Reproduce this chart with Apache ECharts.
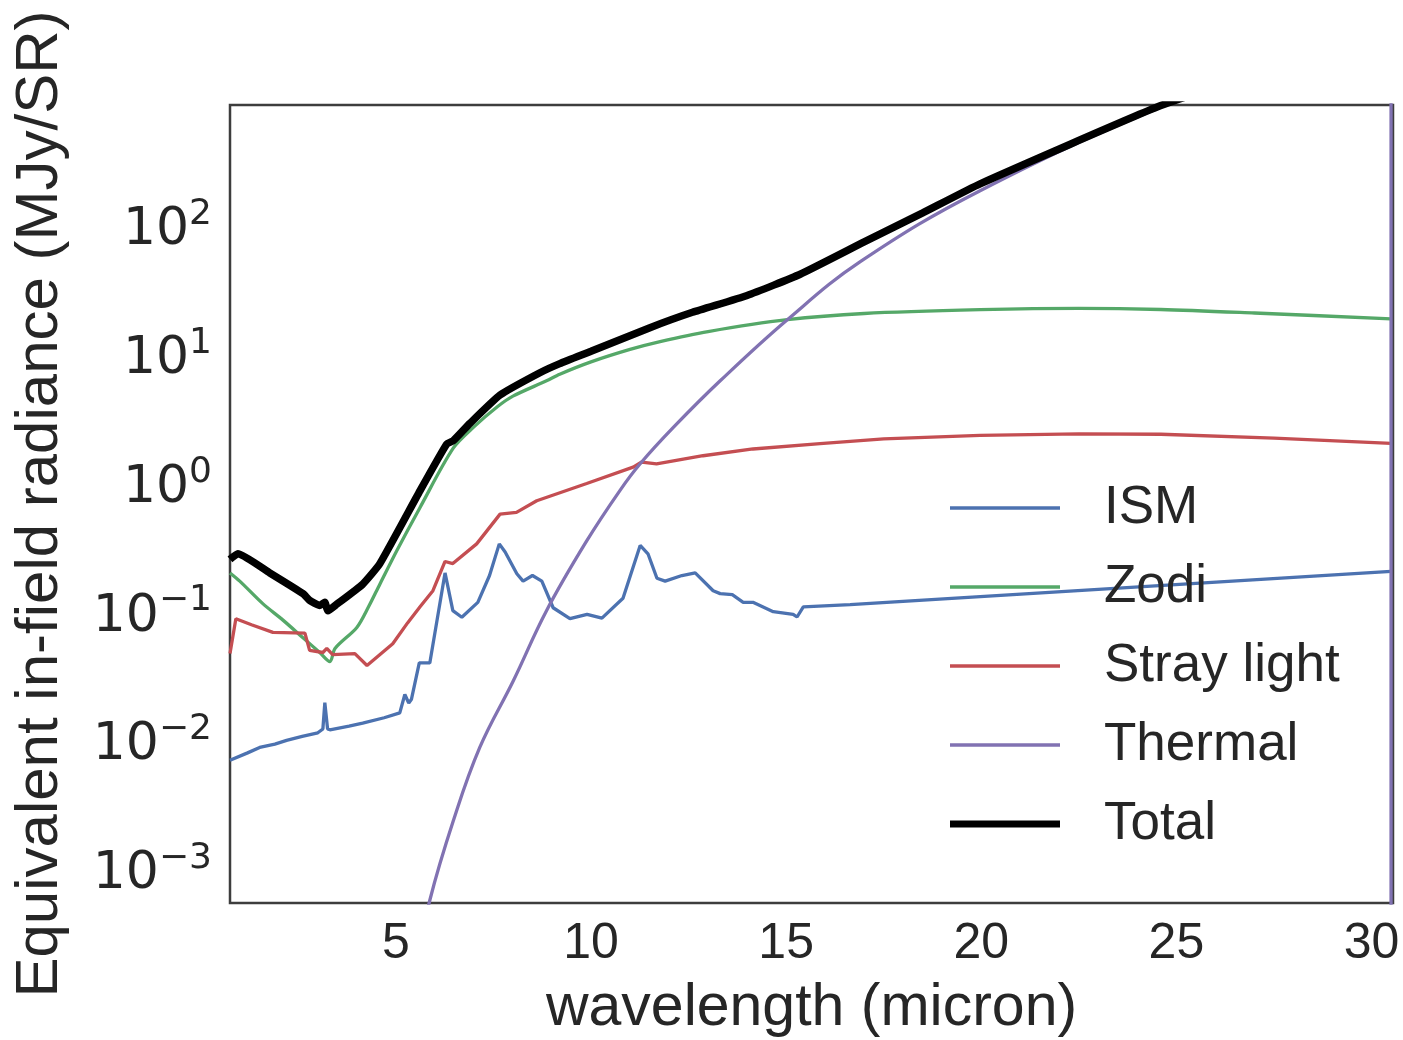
<!DOCTYPE html>
<html>
<head>
<meta charset="utf-8">
<script src="https://cdn.jsdelivr.net/npm/echarts@6/dist/echarts.min.js"></script>
<style>
  html, body { margin: 0; padding: 0; background: #fff; }
  #main { width: 1403px; height: 1040px; }
</style>
</head>
<body>
<div id="main"></div>
<script>
// wavelength (micron), radiance (MJy/SR)
var ismData = [
  [0.75, 0.0077], [1.2, 0.0088], [1.51, 0.0097], [1.9, 0.0103], [2.2, 0.011], [2.6, 0.0118],
  [3.0, 0.0126], [3.13, 0.0135], [3.18, 0.0216], [3.25, 0.0135], [3.31, 0.0133], [3.8, 0.0142],
  [4.15, 0.015], [4.7, 0.0165], [5.1, 0.018], [5.15, 0.0185], [5.23, 0.025], [5.33, 0.0215],
  [5.4, 0.023], [5.6, 0.044], [5.87, 0.044], [6.26, 0.22], [6.46, 0.112], [6.69, 0.0995],
  [7.1, 0.13], [7.4, 0.21], [7.65, 0.37], [7.8, 0.32], [8.1, 0.217], [8.26, 0.19], [8.5, 0.21],
  [8.74, 0.19], [9.03, 0.118], [9.46, 0.097], [9.9, 0.105], [10.28, 0.098], [10.82, 0.14],
  [11.26, 0.36], [11.46, 0.31], [11.69, 0.2], [11.9, 0.19], [12.33, 0.21], [12.67, 0.22],
  [13.13, 0.16], [13.31, 0.152], [13.62, 0.149], [13.9, 0.13], [14.15, 0.13], [14.67, 0.11],
  [15.18, 0.105], [15.28, 0.1], [15.44, 0.12], [16.64, 0.125], [30.5, 0.226]
];
var zodiData = [
  [0.75, 0.22], [1.0, 0.19], [1.59, 0.127], [2.1, 0.095], [2.62, 0.069], [3.05, 0.053],
  [3.31, 0.045], [3.44, 0.057], [4.0, 0.083], [4.3, 0.12], [4.59, 0.18], [5.03, 0.33],
  [5.62, 0.71], [6.47, 2.05], [7.0, 3.0], [7.6, 4.3], [8.0, 5.2], [8.86, 6.84], [9.2, 7.7],
  [10.0, 9.6], [11.0, 12.0], [11.77, 13.8], [13.0, 16.5], [15.03, 20.4], [17.0, 22.8],
  [19.97, 24.4], [22.5, 25.0], [24.6, 24.5], [27.0, 23.0], [30.5, 20.7]
];
var strayData = [
  [0.75, 0.052], [0.9, 0.097], [1.3, 0.087], [1.85, 0.076], [2.67, 0.075], [2.79, 0.055],
  [3.13, 0.053], [3.23, 0.057], [3.38, 0.051], [3.95, 0.052], [4.26, 0.042], [4.92, 0.062],
  [5.3, 0.09], [5.62, 0.12], [5.95, 0.16], [6.26, 0.27], [6.46, 0.26], [7.07, 0.37],
  [7.67, 0.63], [8.09, 0.65], [8.61, 0.8], [9.89, 1.09], [11.08, 1.46], [11.3, 1.6],
  [11.68, 1.55], [12.87, 1.79], [14.15, 2.02], [15.87, 2.22], [17.5, 2.42], [19.97, 2.58],
  [22.5, 2.65], [24.6, 2.63], [27.5, 2.45], [30.5, 2.23]
];
var thermalData = [
  [5.5, 0.00018], [5.87, 0.00063], [6.47, 0.0026], [7.15, 0.0097], [8.01, 0.032], [8.86, 0.112],
  [9.89, 0.39], [10.74, 0.96], [11.26, 1.55], [12.11, 2.97], [13.31, 6.84], [15.03, 20.4],
  [16.9, 57.6], [19.97, 205], [24.6, 913], [27.5, 1800], [30.5, 3500], [30.5, 1e-9]
];
var totalData = [
  [0.75, 0.28], [0.95, 0.31], [1.77, 0.22], [2.62, 0.152], [2.8, 0.134], [3.05, 0.123],
  [3.18, 0.13], [3.26, 0.112], [3.49, 0.126], [4.15, 0.18], [4.59, 0.26], [5.62, 0.96],
  [6.3, 2.2], [6.47, 2.34], [6.9, 3.2], [7.67, 5.3], [8.69, 7.9], [9.2, 9.3], [10.0, 11.6],
  [11.51, 17.7], [12.6, 23.3], [14.0, 31.5], [15.36, 46], [17.0, 82], [18.5, 138],
  [19.97, 232], [24.6, 940], [27.5, 1830], [30.5, 3530]
];
var seriesNames = ['ISM', 'Zodi', 'Stray light', 'Thermal', 'Total'];
var seriesColors = ['#4C72B0', '#55A868', '#C44E52', '#8172B2', '#000000'];
var xTicks = [5, 10, 15, 20, 25, 30];

var textColor = '#262626';
var thinIcon = 'path://M0,0L110,0L110,3.3L0,3.3Z';
var thickIcon = 'path://M0,0L110,0L110,7L0,7Z';
var chart = echarts.init(document.getElementById('main'));

function lineSeries(name, data, color, width, smooth) {
  return {
    name: name,
    type: 'line',
    data: data,
    symbol: 'none',
    showSymbol: false,
    smooth: smooth || false,
    lineStyle: { color: color, width: width },
    itemStyle: { color: color },
    clip: true
  };
}

var legendData = seriesNames.map(function (n, i) {
  return {
    name: n,
    icon: n === 'Total' ? thickIcon : thinIcon,
    itemStyle: { color: seriesColors[i], borderWidth: 0 }
  };
});

var option = {
  animation: false,
  backgroundColor: '#fff',
  grid: {
    left: 230, right: 10, top: 105, bottom: 137,
    show: true, borderColor: '#3d3d3d', borderWidth: 2.5,
    containLabel: false, outerBoundsMode: 'none'
  },
  legend: {
    orient: 'vertical',
    left: 950, top: 478, padding: 0,
    itemWidth: 110, itemHeight: 20, itemGap: 19,
    itemStyle: { borderWidth: 0 },
    textStyle: {
      fontSize: 53, fontFamily: 'Liberation Sans', color: textColor,
      lineHeight: 60, padding: [0, 0, 0, 39]
    },
    data: legendData
  },
  xAxis: {
    type: 'value',
    min: 0.75, max: 30.55,
    name: 'wavelength (micron)',
    nameLocation: 'middle',
    nameGap: 76,
    nameTextStyle: { fontSize: 59, fontFamily: 'Liberation Sans', color: textColor },
    axisLine: { show: false },
    axisTick: { show: false },
    splitLine: { show: false },
    axisLabel: {
      fontSize: 50, fontFamily: 'Liberation Sans', color: textColor, margin: 16,
      formatter: function (v) { return xTicks.indexOf(v) >= 0 ? String(v) : ''; }
    }
  },
  yAxis: {
    type: 'log',
    logBase: 10,
    min: 0.0006, max: 950,
    name: 'Equivalent in-field radiance (MJy/SR)',
    nameLocation: 'middle',
    nameGap: 160,
    nameTextStyle: { fontSize: 60, fontFamily: 'Liberation Sans', color: textColor },
    axisLine: { show: false },
    axisTick: { show: false },
    splitLine: { show: false },
    axisLabel: {
      margin: 18,
      formatter: function (v) {
        var l = Math.log10(v);
        var e = Math.round(l);
        if (Math.abs(l - e) > 1e-6) return '';
        var s = e < 0 ? '\u2212' + (-e) : String(e);
        return '{b|10}{s|' + s + '}';
      },
      rich: {
        b: { fontSize: 52, fontFamily: 'DejaVu Sans', color: textColor, lineHeight: 54 },
        s: { fontSize: 36, fontFamily: 'DejaVu Sans', color: textColor, lineHeight: 38, padding: [0, 0, 32, 0] }
      }
    }
  },
  series: [
    lineSeries('ISM', ismData, seriesColors[0], 3.3),
    lineSeries('Zodi', zodiData, seriesColors[1], 3.3, 0.3),
    lineSeries('Stray light', strayData, seriesColors[2], 3.3),
    lineSeries('Thermal', thermalData, seriesColors[3], 3.3, 0.4),
    lineSeries('Total', totalData, seriesColors[4], 7.5, 0.15)
  ]
};
chart.setOption(option);
</script>
</body>
</html>
